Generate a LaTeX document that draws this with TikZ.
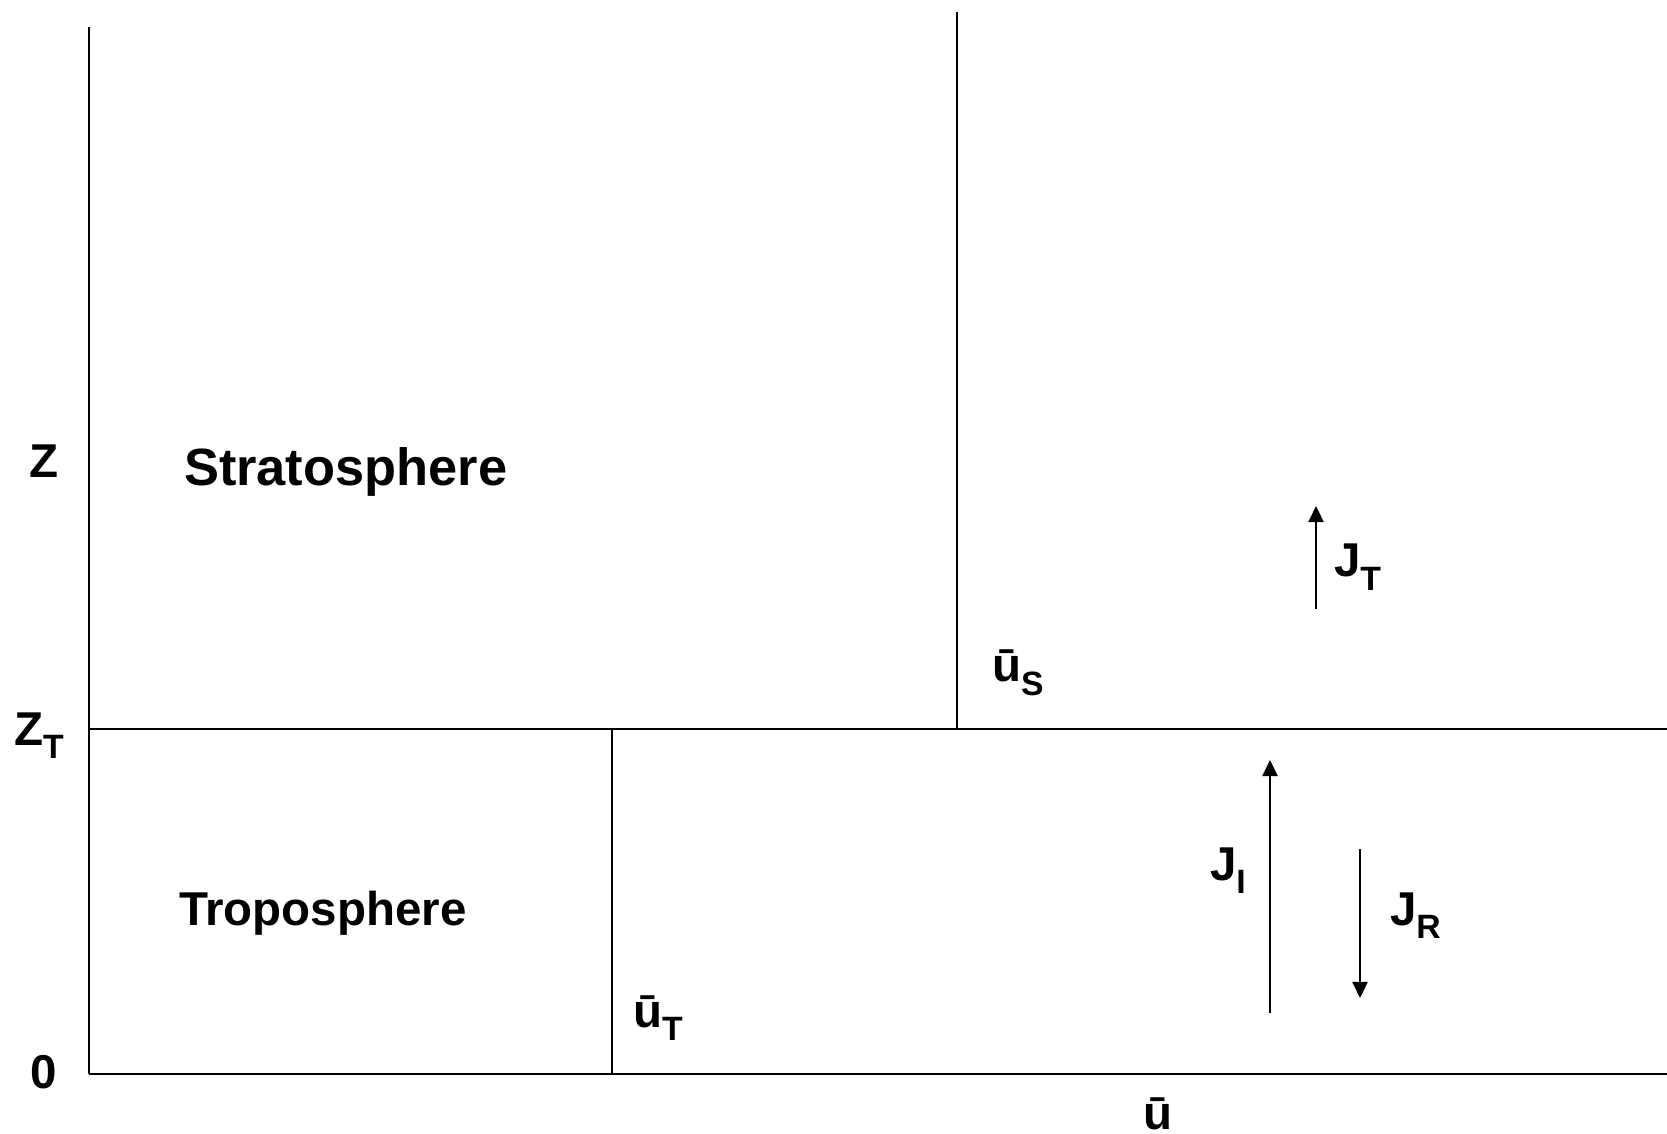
\documentclass[tikz,border=0pt]{standalone}
\usepackage{fontspec}
\setmainfont{Liberation Sans}
\usetikzlibrary{arrows.meta}
\newcommand{\lowsub}[1]{\raisebox{-0.55ex}{\fontsize{9.6pt}{12pt}\selectfont #1}}
\tikzset{
  lbl/.style={anchor=base west, inner sep=0pt, font=\fontsize{13.5pt}{16pt}\selectfont\bfseries},
  biglbl/.style={lbl, font=\fontsize{14.9pt}{18pt}\selectfont\bfseries},
  flux/.style={-{Triangle[length=0.16cm,width=0.15cm]}},
}
\begin{document}
\begin{tikzpicture}[x=0.01cm,y=-0.01cm,line width=0.6pt]
\useasboundingbox (0,0) rectangle (1667,1134);
\path coordinate (O) at (89,1074)
coordinate (Ztop) at (89,27)
coordinate (Uend) at (1667,1074)
coordinate (ZTl) at (89,729)
coordinate (ZTr) at (1667,729)
coordinate (USb) at (957,729)
coordinate (USt) at (957,12)
coordinate (UTb) at (612,1074)
coordinate (UTt) at (612,729)
coordinate (JTa) at (1316,609)
coordinate (JTb) at (1316,506)
coordinate (JIa) at (1270,1013)
coordinate (JIb) at (1270,760)
coordinate (JRa) at (1360,849)
coordinate (JRb) at (1360,998)
;
\path node[lbl] (Z) at (28,478) {Z}
node[lbl] (ZT) at (13,745) {Z\lowsub{T}}
node[lbl] (zero) at (29,1088) {0}
node[biglbl] (strat) at (183,486) {Stratosphere}
node[lbl] (trop) at (178,925) {Troposphere}
node[lbl] (US) at (991,682) {ū\lowsub{S}}
node[lbl] (UT) at (632,1027) {ū\lowsub{T}}
node[lbl] (U) at (1142,1129) {ū}
node[lbl] (JT) at (1333,577) {J\lowsub{T}}
node[lbl] (JI) at (1209,880) {J\lowsub{I}}
node[lbl] (JR) at (1389,925) {J\lowsub{R}}
;
\draw   (Ztop) -- (O);
\draw   (O) -- (Uend);
\draw   (ZTl) -- (ZTr);
\draw   (USt) -- (USb);
\draw   (UTt) -- (UTb);
\draw[flux]   (JTa) -- (JTb);
\draw[flux]   (JIa) -- (JIb);
\draw[flux]   (JRa) -- (JRb);
\end{tikzpicture}
\end{document}
